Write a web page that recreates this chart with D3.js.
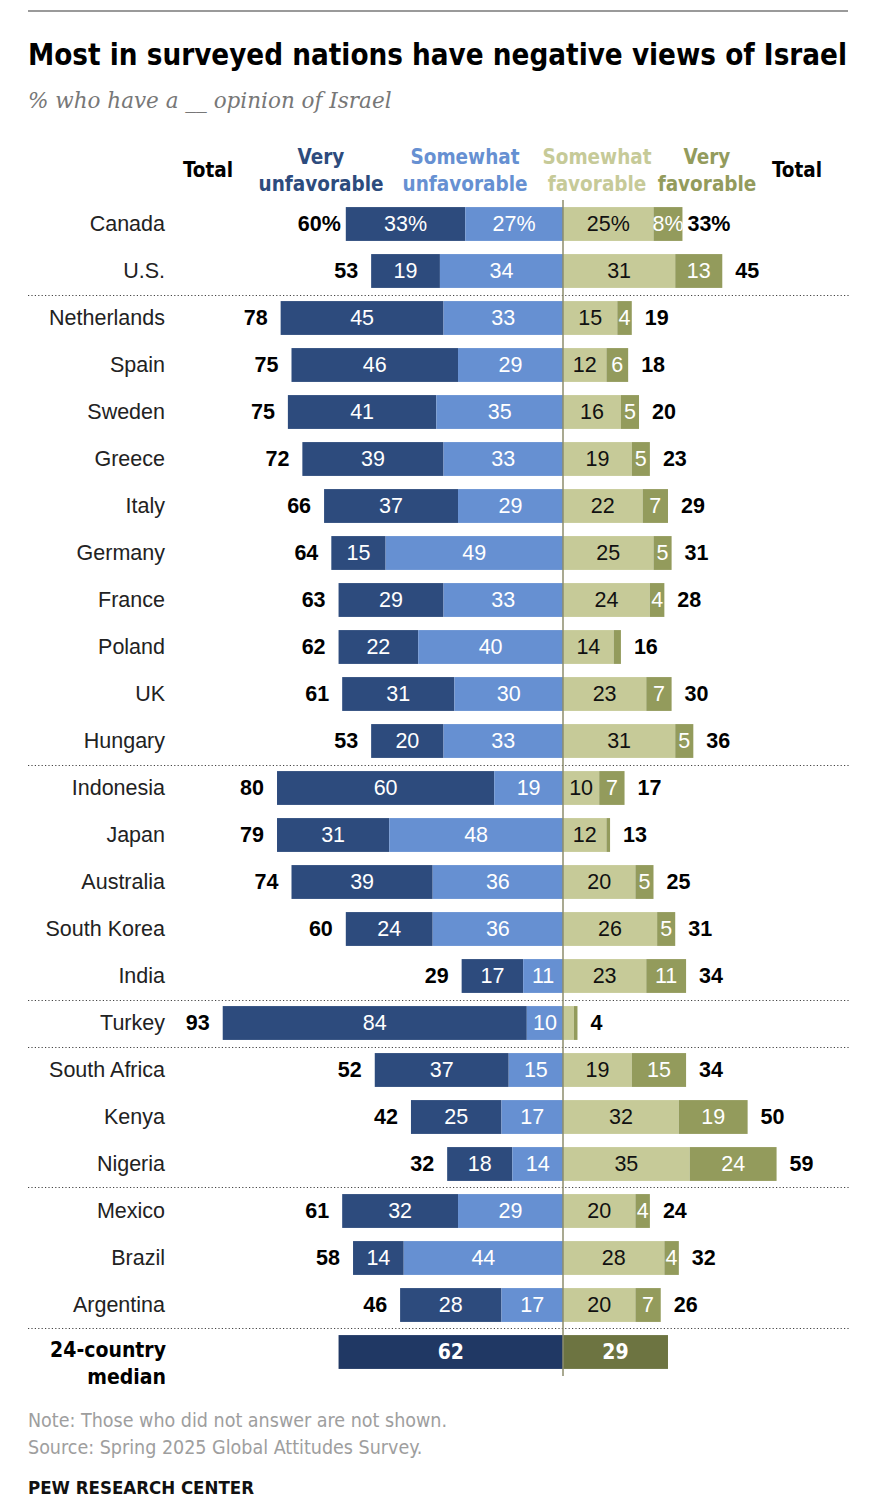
<!DOCTYPE html>
<html lang="en">
<head>
  <meta charset="UTF-8">
  <title>Views of Israel</title>
  <style>
    body { margin: 0; background: #fff; }
    .cond { font-family: "Liberation Sans Narrow", "DejaVu Sans Condensed", "Roboto", sans-serif; }
    .sans { font-family: "Liberation Sans", "Roboto", sans-serif; }
  </style>
</head>
<body>
  <script src="https://cdn.jsdelivr.net/npm/d3@7"></script>
  <script>
  var countries = ['Canada', 'U.S.', 'Netherlands', 'Spain', 'Sweden', 'Greece', 'Italy', 'Germany',
    'France', 'Poland', 'UK', 'Hungary', 'Indonesia', 'Japan', 'Australia', 'South Korea', 'India',
    'Turkey', 'South Africa', 'Kenya', 'Nigeria', 'Mexico', 'Brazil', 'Argentina'];
  var veryUnfav = [33, 19, 45, 46, 41, 39, 37, 15, 29, 22, 31, 20, 60, 31, 39, 24, 17, 84, 37, 25, 18, 32, 14, 28];
  var someUnfav = [27, 34, 33, 29, 35, 33, 29, 49, 33, 40, 30, 33, 19, 48, 36, 36, 11, 10, 15, 17, 14, 29, 44, 17];
  var someFav   = [25, 31, 15, 12, 16, 19, 22, 25, 24, 14, 23, 31, 10, 12, 20, 26, 23, 3, 19, 32, 35, 20, 28, 20];
  var veryFav   = [8, 13, 4, 6, 5, 5, 7, 5, 4, 2, 7, 5, 7, 1, 5, 5, 11, 1, 15, 19, 24, 4, 4, 7];
  var totalUnfav = [60, 53, 78, 75, 75, 72, 66, 64, 63, 62, 61, 53, 80, 79, 74, 60, 29, 93, 52, 42, 32, 61, 58, 46];
  var totalFav   = [33, 45, 19, 18, 20, 23, 29, 31, 28, 16, 30, 36, 17, 13, 25, 31, 34, 4, 34, 50, 59, 24, 32, 26];
  var medianLabel = '24-country median';
  var medianUnfav = 62;
  var medianFav = 29;
  // rows after which a dotted rule is drawn
  var groupEnds = ['U.S.', 'Hungary', 'India', 'Turkey', 'Nigeria', 'Argentina'];

  var W = 876, H = 1512;
  var svg = d3.select('body').append('svg').attr('width', W).attr('height', H);

  var x = d3.scaleLinear().domain([-100, 100]).range([201, 925]);
  var y = d3.scaleBand().domain(countries.concat([medianLabel]))
    .range([200.5, 1375.5]).paddingInner(0.28).paddingOuter(0.14);
  var bh = y.bandwidth();
  var step = y.step();

  var col = { vu: '#2d4b7d', su: '#6690d2', sf: '#c6ca98', vf: '#939b5c', mu: '#203864', mf: '#6d7441' };

  // top rule
  svg.append('line').attr('x1', 28).attr('x2', 848).attr('y1', 11).attr('y2', 11)
    .attr('stroke', '#9a9a9a').attr('stroke-width', 2);

  svg.append('text').attr('class', 'cond').attr('x', 28).attr('y', 65)
    .attr('font-size', 29.5).attr('font-weight', 'bold').attr('fill', '#000')
    .attr('textLength', 819).attr('lengthAdjust', 'spacingAndGlyphs')
    .text('Most in surveyed nations have negative views of Israel');
  svg.append('text').attr('x', 28).attr('y', 108)
    .attr('font-family', '"DejaVu Serif", "Liberation Serif", serif')
    .attr('font-style', 'italic').attr('font-size', 21.5).attr('fill', '#777')
    .text('% who have a __ opinion of Israel');

  // column headers
  var heads = [
    { x: 208, lines: ['Total'], c: '#000' },
    { x: 321, lines: ['Very', 'unfavorable'], c: col.vu },
    { x: 465, lines: ['Somewhat', 'unfavorable'], c: col.su },
    { x: 597, lines: ['Somewhat', 'favorable'], c: col.sf },
    { x: 707, lines: ['Very', 'favorable'], c: col.vf },
    { x: 797, lines: ['Total'], c: '#000' }
  ];
  heads.forEach(function (h) {
    var t = svg.append('text').attr('class', 'cond').attr('text-anchor', 'middle')
      .attr('font-size', 20.5).attr('font-weight', 'bold').attr('fill', h.c);
    if (h.lines.length === 1) {
      t.append('tspan').attr('x', h.x).attr('y', 177).text(h.lines[0]);
    } else {
      t.append('tspan').attr('x', h.x).attr('y', 164).text(h.lines[0]);
      t.append('tspan').attr('x', h.x).attr('y', 191).text(h.lines[1]);
    }
  });

  // build rows
  var rows = countries.map(function (c, i) {
    return { name: c, i: i, vu: veryUnfav[i], su: someUnfav[i], sf: someFav[i], vf: veryFav[i],
      tu: totalUnfav[i], tf: totalFav[i] };
  });

  // dotted separators
  groupEnds.forEach(function (c) {
    var yy = Math.round(y(c) + bh + (step - bh) / 2) + 0.5;
    svg.append('line').attr('x1', 28).attr('x2', 850).attr('y1', yy).attr('y2', yy)
      .attr('stroke', '#444').attr('stroke-width', 1.2).attr('stroke-dasharray', '1.2,2.2');
  });

  var g = svg.selectAll('g.row').data(rows).enter().append('g').attr('class', 'row')
    .attr('transform', function (d) { return 'translate(0,' + y(d.name) + ')'; });

  function segs(d) {
    var pct = d.i === 0 ? '%' : '';
    return [
      { x0: -(d.vu + d.su), x1: -d.su, v: d.vu, c: col.vu, tc: '#fff', p: pct },
      { x0: -d.su, x1: 0, v: d.su, c: col.su, tc: '#fff', p: pct },
      { x0: 0, x1: d.sf, v: d.sf, c: col.sf, tc: '#111', p: pct },
      { x0: d.sf, x1: d.sf + d.vf, v: d.vf, c: col.vf, tc: '#fff', p: pct }
    ];
  }

  g.selectAll('rect').data(segs).enter().append('rect')
    .attr('x', function (s) { return x(s.x0); })
    .attr('width', function (s) { return x(s.x1) - x(s.x0); })
    .attr('y', 0).attr('height', bh)
    .attr('fill', function (s) { return s.c; });

  g.selectAll('text.seg').data(function (d) { return segs(d).filter(function (s) { return s.v >= 4; }); })
    .enter().append('text').attr('class', 'seg sans')
    .attr('x', function (s) { return (x(s.x0) + x(s.x1)) / 2; })
    .attr('y', bh / 2 + 7.5).attr('text-anchor', 'middle')
    .attr('font-size', 21.5).attr('fill', function (s) { return s.tc; })
    .text(function (s) { return s.v + s.p; });

  g.append('text').attr('class', 'sans').attr('x', 165).attr('y', bh / 2 + 7.5)
    .attr('text-anchor', 'end').attr('font-size', 21.5).attr('fill', '#222')
    .text(function (d) { return d.name; });

  // totals
  g.append('text').attr('class', 'sans').attr('font-weight', 'bold').attr('font-size', 21.5)
    .attr('text-anchor', 'end').attr('y', bh / 2 + 7.5)
    .attr('x', function (d) { return x(-(d.vu + d.su)) - (d.i === 0 ? 5 : 13); })
    .text(function (d) { return d.tu + (d.i === 0 ? '%' : ''); });
  g.append('text').attr('class', 'sans').attr('font-weight', 'bold').attr('font-size', 21.5)
    .attr('text-anchor', 'start').attr('y', bh / 2 + 7.5)
    .attr('x', function (d) { return x(d.sf + d.vf) + (d.i === 0 ? 5 : 13); })
    .text(function (d) { return d.tf + (d.i === 0 ? '%' : ''); });

  // median row
  var my = y(medianLabel);
  var mg = svg.append('g').attr('transform', 'translate(0,' + my + ')');
  mg.append('rect').attr('x', x(-medianUnfav)).attr('width', x(0) - x(-medianUnfav))
    .attr('y', 0).attr('height', bh).attr('fill', col.mu);
  mg.append('rect').attr('x', x(0)).attr('width', x(medianFav) - x(0))
    .attr('y', 0).attr('height', bh).attr('fill', col.mf);
  mg.append('text').attr('class', 'cond').attr('x', (x(-medianUnfav) + x(0)) / 2).attr('y', bh / 2 + 7.5)
    .attr('text-anchor', 'middle').attr('font-size', 21).attr('font-weight', 'bold').attr('fill', '#fff')
    .text(medianUnfav);
  mg.append('text').attr('class', 'cond').attr('x', (x(medianFav) + x(0)) / 2).attr('y', bh / 2 + 7.5)
    .attr('text-anchor', 'middle').attr('font-size', 21).attr('font-weight', 'bold').attr('fill', '#fff')
    .text(medianFav);
  var ml = mg.append('text').attr('class', 'cond').attr('text-anchor', 'end')
    .attr('font-size', 21).attr('font-weight', 'bold').attr('fill', '#000');
  ml.append('tspan').attr('x', 166).attr('y', 22).text('24-country');
  ml.append('tspan').attr('x', 166).attr('y', 49).text('median');

  // center line
  svg.append('line').attr('x1', x(0)).attr('x2', x(0)).attr('y1', 200).attr('y2', 1376)
    .attr('stroke', '#8c8c6c').attr('stroke-width', 1.5);

  // footer
  svg.append('text').attr('class', 'cond').attr('x', 28).attr('y', 1427)
    .attr('font-size', 19.5).attr('fill', '#9e9e9e').text('Note: Those who did not answer are not shown.');
  svg.append('text').attr('class', 'cond').attr('x', 28).attr('y', 1454)
    .attr('font-size', 19.5).attr('fill', '#9e9e9e').text('Source: Spring 2025 Global Attitudes Survey.');
  svg.append('text').attr('class', 'cond').attr('x', 28).attr('y', 1494)
    .attr('font-size', 18.5).attr('font-weight', 'bold').attr('fill', '#111').text('PEW RESEARCH CENTER');
  </script>
</body>
</html>
